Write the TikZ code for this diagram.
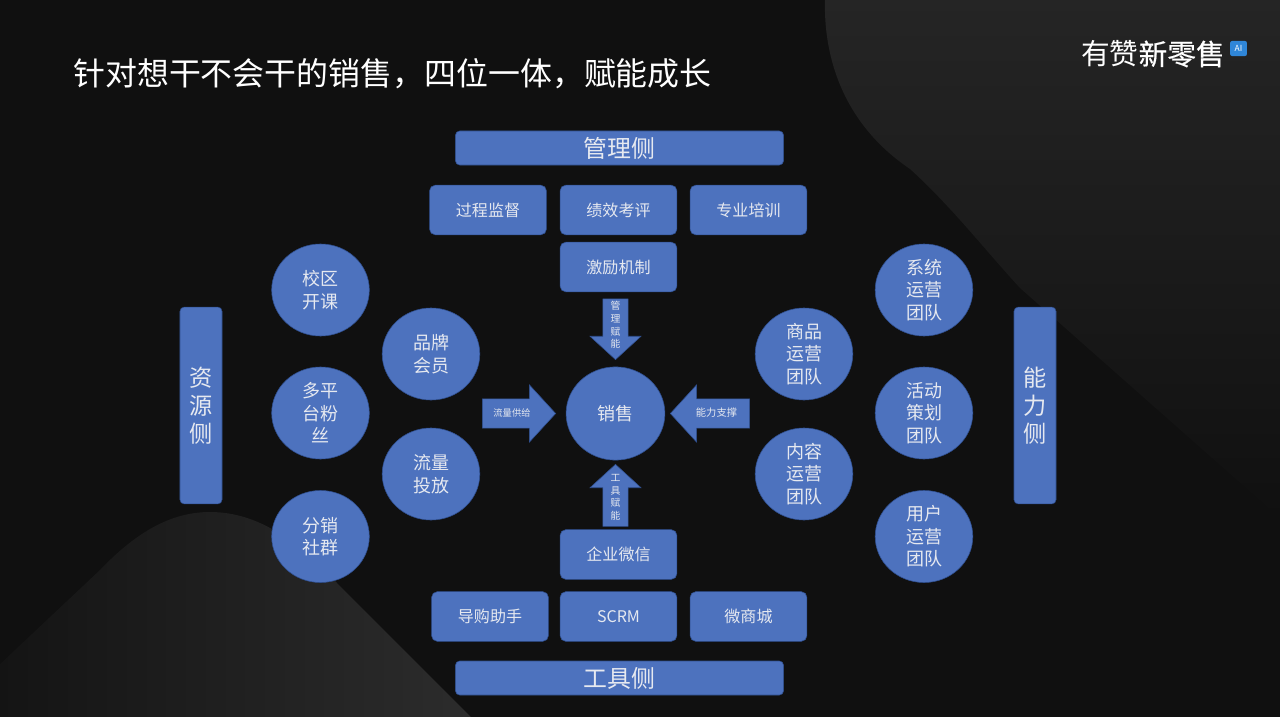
\documentclass[tikz,border=0pt]{standalone}
\usepackage{xcolor}
\usepackage{fontspec}
\setmainfont{Noto Sans CJK SC}
\newfontfamily\logobold[FakeBold=0.5]{Noto Sans CJK SC}
\usepackage{tikz}
\usetikzlibrary{shapes.geometric,shapes.arrows}
\definecolor{pagebg}{HTML}{101010}
\definecolor{wavetop}{HTML}{252525}
\definecolor{wavemid}{HTML}{161616}
\definecolor{waveleft}{HTML}{141414}
\definecolor{waveright}{HTML}{2C2C2C}
\definecolor{boxblue}{HTML}{4D72BE}
\definecolor{boxline}{HTML}{2F4F8F}
\definecolor{boxtext}{HTML}{E6E9F0}
\definecolor{badgeblue}{HTML}{2F86D8}
\tikzset{
  barbox/.style={rectangle, rounded corners=3pt, fill=boxblue, draw=boxline, text=boxtext, font=\fontsize{17}{20}\selectfont, minimum width=8.2cm, minimum height=0.85cm, inner sep=0},
  sidebox/.style={rectangle, rounded corners=3pt, fill=boxblue, draw=boxline, text=boxtext, font=\fontsize{16.5}{20}\selectfont, minimum width=1.05cm, minimum height=4.92cm, inner sep=0, align=center},
  itembox/.style={rectangle, rounded corners=4pt, fill=boxblue, draw=boxline, text=boxtext, font=\fontsize{11.4}{14}\selectfont, minimum width=2.92cm, minimum height=1.24cm, inner sep=0},
  teamcircle/.style={ellipse, fill=boxblue, draw=boxline, text=boxtext, font=\fontsize{12.8}{16}\selectfont, minimum width=2.44cm, minimum height=2.3cm, inner sep=0, align=center},
  blockarrow/.style={single arrow, fill=boxblue, draw=boxline, inner sep=0.31cm, anchor=tip, single arrow tip angle=95, single arrow head extend=0.32cm},
  widearrow/.style={blockarrow, inner sep=0.36cm, single arrow head extend=0.35cm},
  arrowtext/.style={text=boxtext, font=\fontsize{7}{8.9}\selectfont, inner sep=0, align=center}
}
\begin{document}
\begin{tikzpicture}[x=0.025cm,y=-0.025cm]

\useasboundingbox (0,0) rectangle (1280,716);
\fill[pagebg] (-2,-2) rectangle (1282,718);
\shade[top color=wavetop, middle color=wavemid, bottom color=pagebg] (825,-2) .. controls (823,60) and (845,125) .. (910,169) .. controls (950,205) and (985,250) .. (1020,288) -- (1282,520) -- (1282,-2) -- cycle;
\shade[left color=waveleft, right color=waveright] (-2,666) -- (100,570) .. controls (140,528) and (175,512) .. (210,512) .. controls (265,512) and (305,550) .. (337,583) -- (472,718) -- (-2,718) -- cycle;

% title and logo
\node[text=white, font=\fontsize{22.7}{27}\selectfont, anchor=west, inner sep=0] (title) at (73,74) {针对想干不会干的销售，四位一体，赋能成长};
\node[text=white, font=\fontsize{20.4}{24}\selectfont, anchor=west, inner sep=0] (logo) at (1081,54) {有赞{\logobold 新零售}};
\node[rectangle, rounded corners=1.5pt, fill=badgeblue, text=white, font=\fontsize{6}{7}\selectfont, minimum width=0.42cm, minimum height=0.38cm, inner sep=0] (badge) at (1238.5,48.5) {AI};

% management side
\node[barbox] (mgmt) at (619.5,148) {管理侧};
\node[itembox] (process) at (488,210) {过程监督};
\node[itembox] (review) at (618.5,210) {绩效考评};
\node[itembox] (training) at (748.5,210) {专业培训};
\node[itembox] (incentive) at (618.5,267) {激励机制};

% tool side
\node[itembox] (wecom) at (618.5,554.5) {企业微信};
\node[itembox] (guide) at (490,616.5) {导购助手};
\node[itembox] (scrm) at (618.5,616.5) {SCRM};
\node[itembox] (shop) at (748.5,616.5) {微商城};
\node[barbox] (tool) at (619.5,678) {工具侧};

% resource side
\node[sidebox] (resource) at (201,405.5) {资\\源\\侧};
\node[teamcircle] (campus) at (320.5,290) {校区\\开课};
\node[teamcircle] (fans) at (320.5,413) {多平\\台粉\\丝};
\node[teamcircle] (group) at (320.5,536.5) {分销\\社群};
\node[teamcircle] (brand) at (431,354) {品牌\\会员};
\node[teamcircle] (traffic) at (431,474) {流量\\投放};

% ability side
\node[sidebox] (ability) at (1035,405.5) {能\\力\\侧};
\node[teamcircle] (system) at (924,290) {系统\\运营\\团队};
\node[teamcircle] (event) at (924,413) {活动\\策划\\团队};
\node[teamcircle] (user) at (924,536.5) {用户\\运营\\团队};
\node[teamcircle] (goods) at (804,354) {商品\\运营\\团队};
\node[teamcircle] (content) at (804,474) {内容\\运营\\团队};

% sales and arrows
\node[teamcircle, minimum width=2.47cm, minimum height=2.33cm] (sales) at (615.5,413.5) {销售};
\node[blockarrow, shape border rotate=270, minimum height=1.52cm] (arrowm) at (615.5,360) {};
\node[blockarrow, shape border rotate=90, minimum height=1.55cm] (arrowt) at (615.5,464) {};
\node[widearrow, minimum height=1.83cm] (arrowr) at (556,413.5) {};
\node[widearrow, shape border rotate=180, minimum height=1.98cm] (arrowa) at (670,413.5) {};
\node[arrowtext] at (615.5,325) {管\\理\\赋\\能};
\node[arrowtext] at (615.5,497.5) {工\\具\\赋\\能};
\node[arrowtext, font=\fontsize{6.6}{8}\selectfont] at (512,413) {流量供给};
\node[arrowtext, font=\fontsize{7.3}{8}\selectfont] at (716.5,413) {能力支撑};

\end{tikzpicture}
\end{document}
